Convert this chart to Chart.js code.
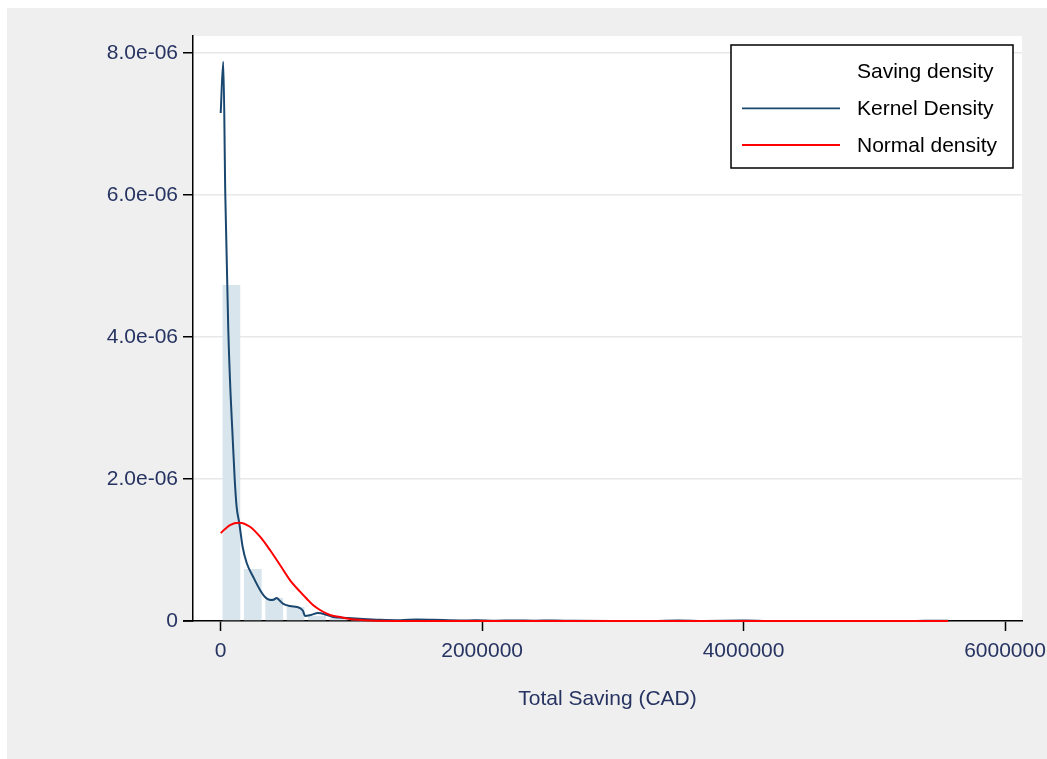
<!DOCTYPE html>
<html>
<head>
<meta charset="utf-8">
<script src="https://cdn.jsdelivr.net/npm/chart.js@4.4.1/dist/chart.umd.min.js"></script>
<style>
html,body{margin:0;padding:0;background:#fff;}
canvas{display:block;}
</style>
</head>
<body>
<canvas id="c" width="1047" height="759" style="width:1047px;height:759px"></canvas>
<script>
// ---- Data ----
const binCenters = [81850, 245550, 409250, 572950, 736650, 900350, 1064050, 1227750, 1391450, 1555150,
  1718850, 1882550, 2046250, 2209950, 2373650, 2537350, 2701050, 2864750, 3028450, 3192150,
  3355850, 3519550, 3683250, 3846950, 4010650, 4174350, 4338050, 4501750, 4665450, 4829150,
  4992850, 5156550, 5320250, 5483950];
const binDensity = [4.733e-6, 0.732e-6, 0.324e-6, 0.197e-6, 0.07e-6, 0.04e-6, 0.02e-6, 0.012e-6, 0.008e-6, 0.006e-6,
  0.012e-6, 0, 0.012e-6, 0.008e-6, 0.008e-6, 0.012e-6, 0.004e-6, 0, 0, 0,
  0, 0.012e-6, 0, 0, 0.012e-6, 0, 0, 0, 0, 0,
  0, 0, 0, 0.012e-6];

const kdeX = [0, 19900, 35200, 58100, 76500, 88800, 107000, 122000, 142000, 168000, 199000, 249000, 301000,
  339000, 377000, 405000, 428000, 455000, 479000, 530000, 607000, 630000, 645000, 690000, 744000, 813000,
  859000, 966000, 1089000, 1219000, 1372000, 1502000, 1624000, 1830000, 1950000, 2100000, 2250000, 2400000,
  2550000, 2700000, 3000000, 3300000, 3500000, 3700000, 4000000, 4200000, 4600000, 5000000, 5300000, 5480000, 5565000];
const kdeY = [7.155e-6, 7.878e-6, 6.0e-6, 4.1e-6, 3.155e-6, 2.69e-6, 2.0e-6, 1.606e-6, 1.38e-6, 1.042e-6, 0.817e-6, 0.62e-6, 0.437e-6,
  0.338e-6, 0.296e-6, 0.30e-6, 0.324e-6, 0.28e-6, 0.24e-6, 0.211e-6, 0.183e-6, 0.14e-6, 0.07e-6, 0.085e-6, 0.113e-6, 0.085e-6,
  0.056e-6, 0.042e-6, 0.028e-6, 0.017e-6, 0.011e-6, 0.021e-6, 0.017e-6, 0.007e-6, 0.01e-6, 0.004e-6, 0.008e-6, 0.004e-6,
  0.008e-6, 0.002e-6, 0.001e-6, 0.001e-6, 0.006e-6, 0.001e-6, 0.006e-6, 0.001e-6, 0.001e-6, 0.001e-6, 0.001e-6, 0.005e-6, 0.002e-6];

const normX = [0, 71000, 142000, 224000, 301000, 377000, 454000, 530000, 607000, 660000, 706000, 760000,
  836000, 913000, 989000, 1142000, 1371000, 1600000, 2000000, 5565000];
const normY = [1.24e-6, 1.352e-6, 1.385e-6, 1.328e-6, 1.187e-6, 1.0e-6, 0.789e-6, 0.577e-6, 0.413e-6, 0.31e-6, 0.225e-6, 0.155e-6,
  0.085e-6, 0.056e-6, 0.028e-6, 0.007e-6, 0.001e-6, 0.0002e-6, 0, 0];

const seriesLabels = ['Saving density', 'Kernel Density', 'Normal density'];
const xTickValues = [0, 2000000, 4000000, 6000000];
const xTickLabels = ['0', '2000000', '4000000', '6000000'];
const yTickValues = [0, 2e-6, 4e-6, 6e-6, 8e-6];
const yTickLabels = ['0', '2.0e-06', '4.0e-06', '6.0e-06', '8.0e-06'];
const xTitle = 'Total Saving (CAD)';

// ---- Styling ----
const FONT = '"Liberation Sans", Arial, Helvetica, sans-serif';
const LABEL_COLOR = '#273462';
const BAR_COLOR = '#d8e5ec';
const KDE_COLOR = '#1a476f';
const NORM_COLOR = '#ff0000';

const W = 1047, H = 759;

const bgPlugin = {
  id: 'bgPlugin',
  beforeDraw(chart) {
    const { ctx, chartArea: a } = chart;
    ctx.save();
    ctx.fillStyle = '#ffffff';
    ctx.fillRect(0, 0, W, H);
    ctx.fillStyle = '#efefef';
    ctx.fillRect(7, 8, W - 7, H - 8);
    ctx.fillStyle = '#ffffff';
    ctx.fillRect(a.left, a.top, a.right - a.left, a.bottom - a.top);
    ctx.restore();
  },
  afterDraw(chart) {
    const { ctx, chartArea: a } = chart;
    ctx.save();
    // x-axis line extends slightly left of the y axis (Stata style)
    ctx.strokeStyle = '#000';
    ctx.lineWidth = 1.5;
    ctx.beginPath();
    ctx.moveTo(183, a.bottom);
    ctx.lineTo(a.left, a.bottom);
    ctx.stroke();

    // legend box
    const lx = 731, ly = 45, lw = 282, lh = 123;
    ctx.fillStyle = '#fff';
    ctx.fillRect(lx, ly, lw, lh);
    ctx.strokeStyle = '#000';
    ctx.lineWidth = 1.5;
    ctx.strokeRect(lx, ly, lw, lh);
    const ds = chart.data.datasets;
    const rowsY = [71.7, 108.3, 145];
    ctx.font = '21px ' + FONT;
    ctx.textBaseline = 'middle';
    ctx.textAlign = 'left';
    for (let i = 0; i < ds.length; i++) {
      const y = rowsY[i];
      if (ds[i].type === 'line') {
        ctx.strokeStyle = ds[i].borderColor;
        ctx.lineWidth = 1.8;
        ctx.beginPath();
        ctx.moveTo(742, y);
        ctx.lineTo(840, y);
        ctx.stroke();
      }
      ctx.fillStyle = '#000';
      ctx.fillText(ds[i].label, 857, y + 1);
    }
    ctx.restore();
  }
};

const ctx = document.getElementById('c').getContext('2d');
new Chart(ctx, {
  type: 'bar',
  data: {
    datasets: [
      {
        type: 'bar',
        label: seriesLabels[0],
        data: binCenters.map((x, i) => ({ x: x, y: binDensity[i] })),
        backgroundColor: BAR_COLOR,
        borderWidth: 0,
        barPercentage: 0.83,
        categoryPercentage: 1.0,
        order: 3
      },
      {
        type: 'line',
        label: seriesLabels[1],
        data: kdeX.map((x, i) => ({ x: x, y: kdeY[i] })),
        borderColor: KDE_COLOR,
        borderWidth: 2,
        pointRadius: 0,
        fill: false,
        cubicInterpolationMode: 'monotone',
        clip: false,
        order: 2
      },
      {
        type: 'line',
        label: seriesLabels[2],
        data: normX.map((x, i) => ({ x: x, y: normY[i] })),
        borderColor: NORM_COLOR,
        borderWidth: 2,
        pointRadius: 0,
        fill: false,
        cubicInterpolationMode: 'monotone',
        clip: false,
        order: 1
      }
    ]
  },
  options: {
    responsive: false,
    animation: false,
    devicePixelRatio: 1,
    layout: { padding: { left: 0, top: 36, right: 25, bottom: 0 } },
    plugins: { legend: { display: false }, tooltip: { enabled: false } },
    scales: {
      x: {
        type: 'linear',
        offset: false,
        min: -211900,
        max: 6130000,
        afterBuildTicks(scale) { scale.ticks = xTickValues.map(v => ({ value: v })); },
        afterFit(scale) { scale.height = 138; scale.paddingLeft = 0; scale.paddingRight = 0; },
        ticks: {
          autoSkip: false,
          maxRotation: 0,
          padding: 8,
          color: LABEL_COLOR,
          font: { family: FONT, size: 21 },
          callback: (v, i) => xTickLabels[i]
        },
        grid: { drawOnChartArea: false, offset: false, tickColor: '#000', tickLength: 10, tickWidth: 1.5 },
        border: { color: '#000', width: 1.5 },
        title: {
          display: true,
          text: xTitle,
          color: LABEL_COLOR,
          font: { family: FONT, size: 21 },
          padding: { top: 0, bottom: 47 }
        }
      },
      y: {
        type: 'linear',
        min: 0,
        max: 8.2394e-6,
        afterBuildTicks(scale) { scale.ticks = yTickValues.map(v => ({ value: v })); },
        afterFit(scale) { scale.width = 193; scale.paddingTop = 0; scale.paddingBottom = 0; },
        ticks: {
          autoSkip: false,
          padding: 5,
          color: LABEL_COLOR,
          font: { family: FONT, size: 21 },
          callback: (v, i) => yTickLabels[i]
        },
        grid: { color: '#e8e8e8', lineWidth: 1.5, tickColor: '#000', tickLength: 10, tickWidth: 1.5 },
        border: { color: '#000', width: 1.5 }
      }
    }
  },
  plugins: [bgPlugin]
});
</script>
</body>
</html>
